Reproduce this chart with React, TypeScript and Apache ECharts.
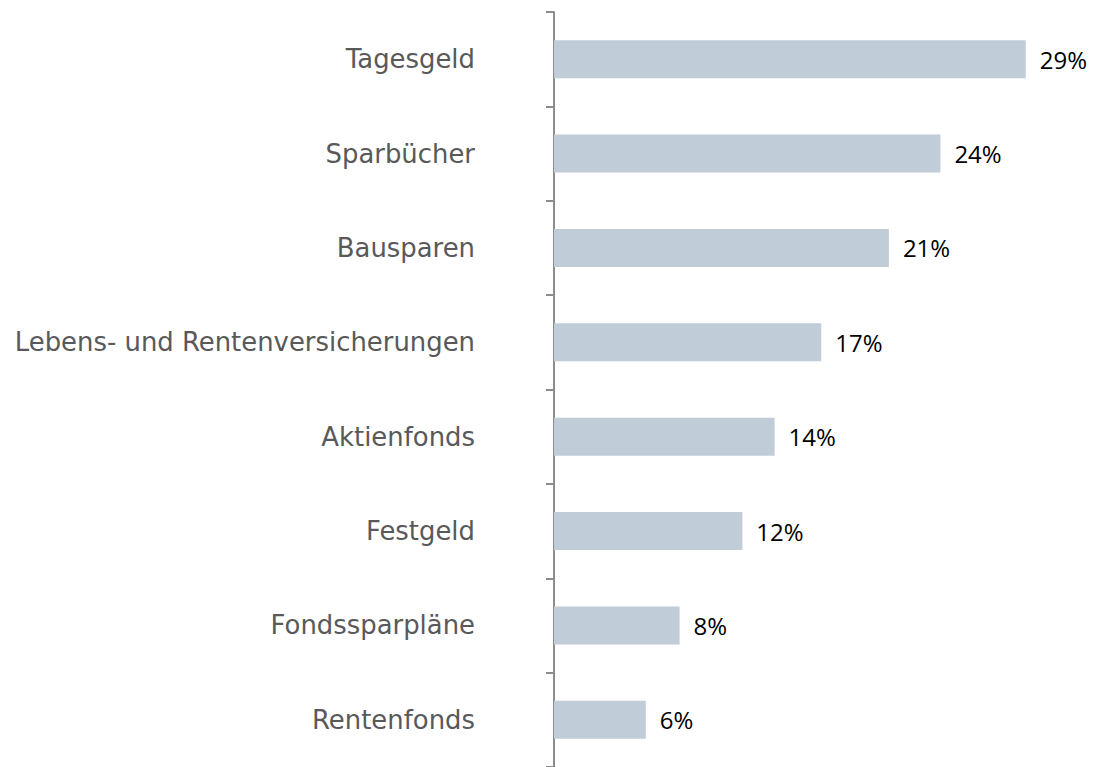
import React, { useEffect, useRef } from "react";
import * as echarts from "echarts";

const categories = [
  "Tagesgeld",
  "Sparbücher",
  "Bausparen",
  "Lebens- und Rentenversicherungen",
  "Aktienfonds",
  "Festgeld",
  "Fondssparpläne",
  "Rentenfonds",
];
const values = [29.3, 24.0, 20.8, 16.6, 13.7, 11.7, 7.8, 5.7];

export default function App() {
  const ref = useRef<HTMLDivElement>(null);
  useEffect(() => {
    const chart = echarts.init(ref.current!, null, { renderer: "svg" });
    chart.setOption({
      animation: false,
      grid: { left: 554, right: 57, top: 12, bottom: -2 },
      xAxis: {
        type: "value",
        min: 0,
        max: 30,
        show: false,
      },
      yAxis: {
        type: "category",
        inverse: true,
        data: categories,
        axisLine: { show: true, lineStyle: { color: "#8c8c8c", width: 2 } },
        axisTick: { show: true, length: 8, lineStyle: { color: "#8c8c8c", width: 2 } },
        axisLabel: {
          margin: 79,
          fontSize: 25.9,
          color: "#595959",
          fontFamily: "DejaVu Sans",
        },
        splitLine: { show: false },
      },
      series: [
        {
          type: "bar",
          data: values,
          barWidth: 38,
          itemStyle: { color: "#c0ccd7" },
          label: {
            show: true,
            position: "right",
            distance: 14,
            fontSize: 24,
            color: "#000",
            fontFamily: "Open Sans",
            formatter: (p: any) => Math.round(p.value) + "%",
          },
        },
      ],
    });
    return () => chart.dispose();
  }, []);
  return (
    <div
      ref={ref}
      style={{ position: "absolute", left: 0, top: 0, width: 1094, height: 767 }}
    />
  );
}
